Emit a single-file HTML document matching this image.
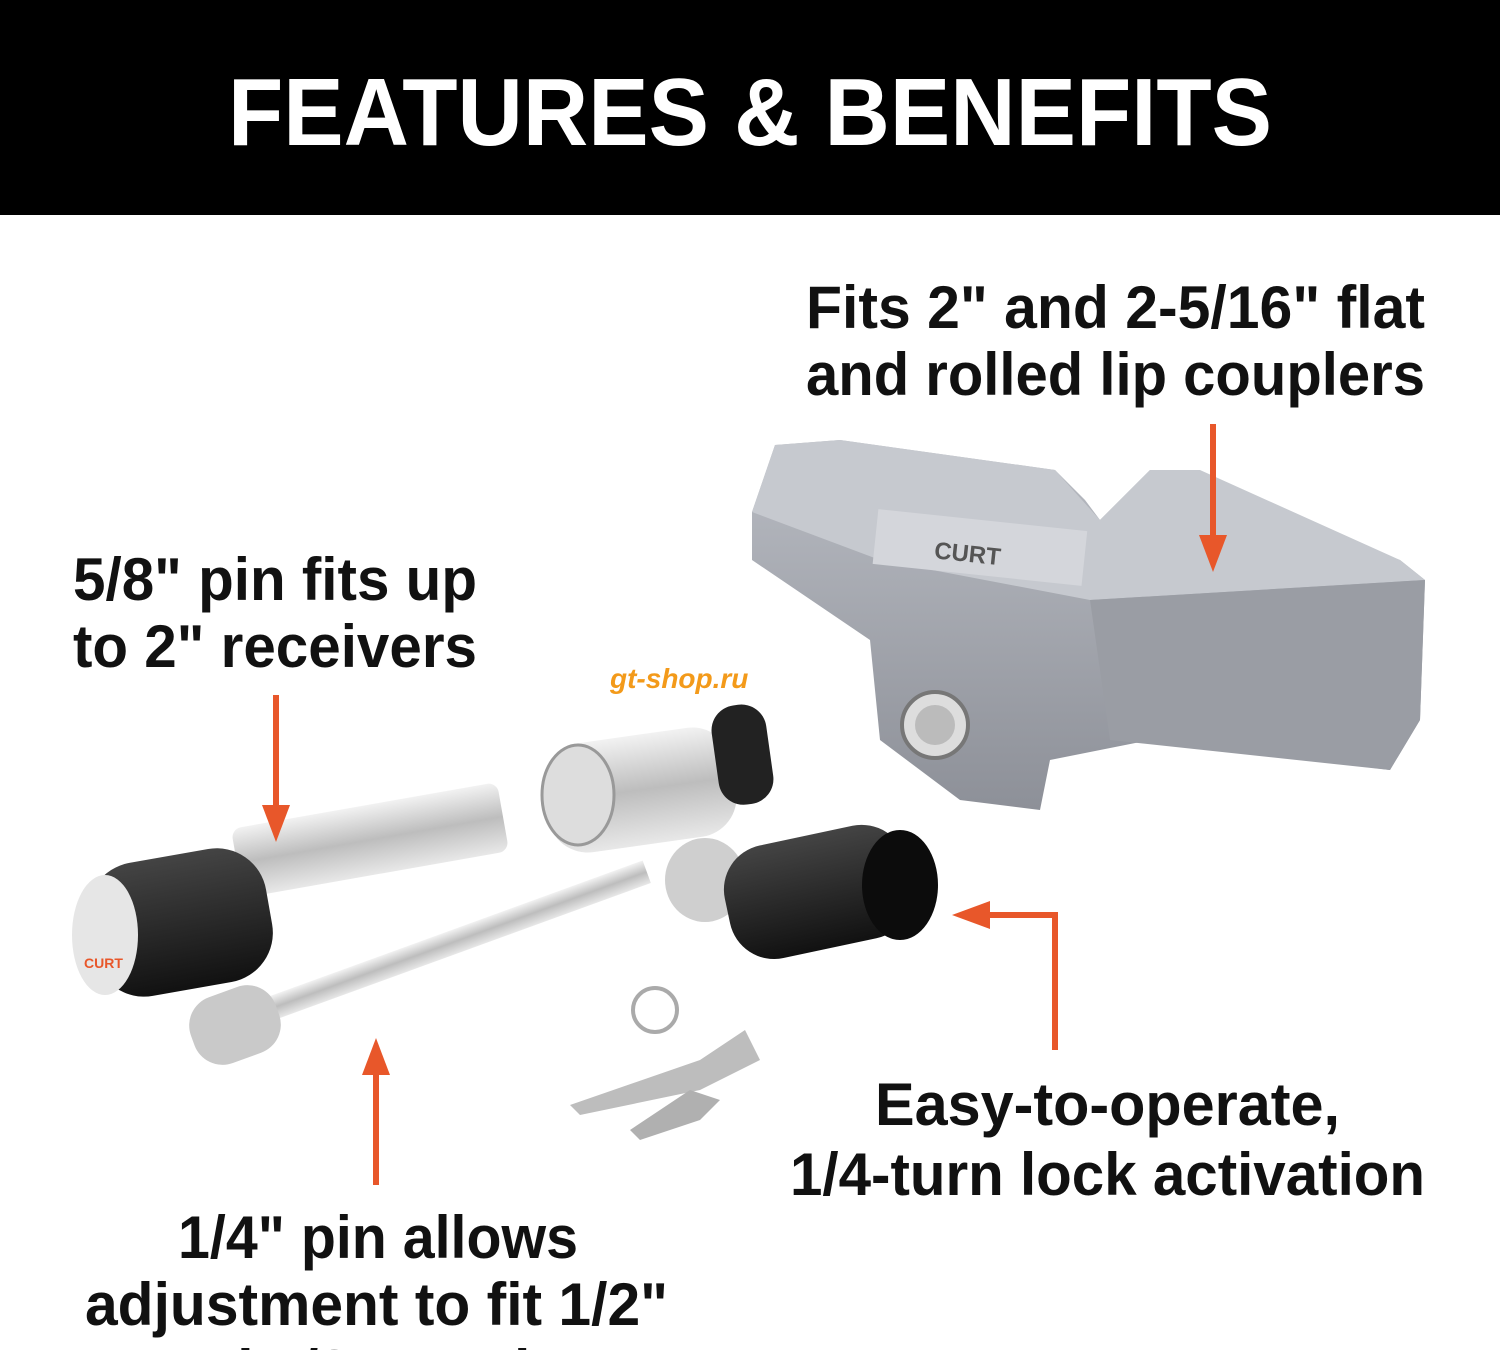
<!DOCTYPE html>
<html><head><meta charset="utf-8"><style>
html,body{margin:0;padding:0;background:#fff}
svg{display:block}
text{font-family:"Liberation Sans",sans-serif;font-weight:bold;fill:#111}
</style></head><body>
<svg width="1500" height="1350" viewBox="0 0 1500 1350" xmlns="http://www.w3.org/2000/svg">
<defs>
<linearGradient id="gr" x1="0" y1="0" x2="0" y2="1"><stop offset="0" stop-color="#b9bcc3"/><stop offset="1" stop-color="#8d9098"/></linearGradient>
<linearGradient id="ch" x1="0" y1="0" x2="0" y2="1"><stop offset="0" stop-color="#f2f2f2"/><stop offset="0.5" stop-color="#bdbdbd"/><stop offset="1" stop-color="#e8e8e8"/></linearGradient>
<linearGradient id="bk" x1="0" y1="0" x2="0" y2="1"><stop offset="0" stop-color="#444"/><stop offset="1" stop-color="#111"/></linearGradient>
</defs>
<rect x="0" y="0" width="1500" height="215" fill="#000"/>
<text x="228" y="145" font-size="96" textLength="1044" lengthAdjust="spacingAndGlyphs" style="fill:#fff">FEATURES &amp; BENEFITS</text>

<text x="806" y="328" font-size="60" textLength="619" lengthAdjust="spacingAndGlyphs">Fits 2" and 2-5/16" flat</text>
<text x="806" y="395" font-size="60" textLength="619" lengthAdjust="spacingAndGlyphs">and rolled lip couplers</text>
<text x="73" y="600" font-size="60" textLength="404" lengthAdjust="spacingAndGlyphs">5/8" pin fits up</text>
<text x="73" y="667" font-size="60" textLength="404" lengthAdjust="spacingAndGlyphs">to 2" receivers</text>
<text x="875" y="1125" font-size="60" textLength="465" lengthAdjust="spacingAndGlyphs">Easy-to-operate,</text>
<text x="790" y="1195" font-size="60" textLength="635" lengthAdjust="spacingAndGlyphs">1/4-turn lock activation</text>
<text x="178" y="1258" font-size="60" textLength="400" lengthAdjust="spacingAndGlyphs">1/4" pin allows</text>
<text x="85" y="1325" font-size="60" textLength="583" lengthAdjust="spacingAndGlyphs">adjustment to fit 1/2"</text>
<text x="150" y="1392" font-size="60" textLength="500" lengthAdjust="spacingAndGlyphs">and 5/8" receivers</text>

<!-- coupler lock -->
<polygon points="752,512 775,445 840,440 1055,470 1085,500 1100,520 1150,470 1200,470 1210,520 1400,560 1425,580 1420,720 1390,770 1150,740 1050,760 1040,810 960,800 880,740 870,640 752,560" fill="url(#gr)"/>
<polygon points="752,512 775,445 840,440 1055,470 1100,520 1150,470 1200,470 1400,560 1425,580 1090,600 880,560" fill="#c6c9cf"/>
<polygon points="1090,600 1425,580 1420,720 1390,770 1110,740" fill="#9a9da4"/>
<rect x="875" y="520" width="210" height="55" fill="#d4d6db" transform="rotate(6 980 547)"/>
<text x="935" y="563" font-size="24" style="fill:#555" transform="rotate(6 980 547)">CURT</text>
<circle cx="935" cy="725" r="33" fill="#ddd" stroke="#777" stroke-width="4"/>
<circle cx="935" cy="725" r="20" fill="#bbb"/>
<text x="610" y="688" font-size="28" font-style="italic" style="fill:#f39a1a">gt-shop.ru</text>

<!-- big pin -->
<rect x="235" y="805" width="270" height="70" rx="10" fill="url(#ch)" transform="rotate(-10 370 840)"/>
<rect x="90" y="855" width="180" height="135" rx="50" fill="url(#bk)" transform="rotate(-10 180 920)"/>
<ellipse cx="105" cy="935" rx="33" ry="60" fill="#e6e6e6"/>
<text x="84" y="968" font-size="14" style="fill:#e8572a">CURT</text>
<!-- small pin -->
<rect x="220" y="935" width="440" height="24" fill="url(#ch)" transform="rotate(-20 440 947)"/>
<rect x="190" y="990" width="90" height="70" rx="30" fill="#c9c9c9" transform="rotate(-20 235 1025)"/>
<!-- barrel -->
<rect x="545" y="735" width="190" height="110" rx="40" fill="url(#ch)" transform="rotate(-8 640 790)"/>
<ellipse cx="578" cy="795" rx="36" ry="50" fill="#ddd" stroke="#999" stroke-width="3"/>
<rect x="715" y="705" width="55" height="100" rx="25" fill="#222" transform="rotate(-8 740 755)"/>
<!-- lock -->
<ellipse cx="705" cy="880" rx="40" ry="42" fill="#cfcfcf"/>
<rect x="725" y="835" width="185" height="115" rx="45" fill="url(#bk)" transform="rotate(-12 815 890)"/>
<ellipse cx="900" cy="885" rx="38" ry="55" fill="#0c0c0c"/>
<!-- keys -->
<circle cx="655" cy="1010" r="22" fill="none" stroke="#aaa" stroke-width="4"/>
<polygon points="570,1105 700,1060 745,1030 760,1060 700,1090 580,1115" fill="#bdbdbd"/>
<polygon points="630,1130 690,1090 720,1100 700,1120 640,1140" fill="#b0b0b0"/>

<!-- arrows on top -->
<g stroke="#e8572a" stroke-width="6" fill="#e8572a">
<line x1="1213" y1="424" x2="1213" y2="540"/>
<polygon points="1199,535 1227,535 1213,572" stroke="none"/>
<line x1="276" y1="695" x2="276" y2="810"/>
<polygon points="262,805 290,805 276,842" stroke="none"/>
<line x1="376" y1="1185" x2="376" y2="1070"/>
<polygon points="362,1075 390,1075 376,1038" stroke="none"/>
<polyline points="1055,1050 1055,915 985,915" fill="none"/>
<polygon points="990,901 990,929 952,915" stroke="none"/>
</g>
</svg>
</body></html>
